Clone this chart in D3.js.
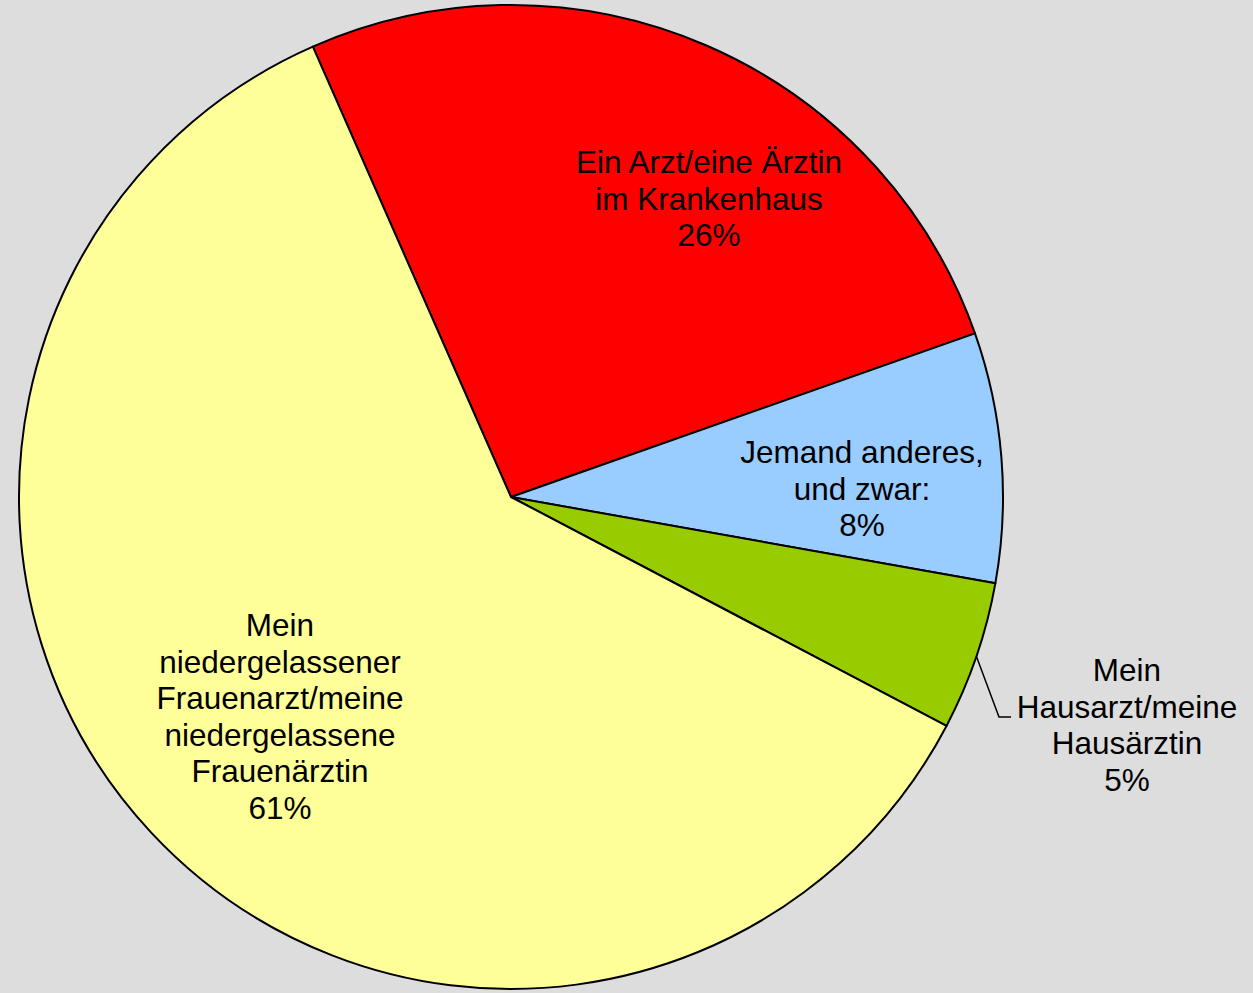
<!DOCTYPE html>
<html>
<head>
<meta charset="utf-8">
<script src="https://cdn.jsdelivr.net/npm/d3@7"></script>
<style>
  html, body { margin: 0; padding: 0; background: #dddddd; }
  svg { display: block; }
  text { font-family: "Liberation Sans", Arial, sans-serif; fill: #000; }
</style>
</head>
<body>
<svg id="chart" width="1253" height="993"></svg>
<script>
// Data (clockwise from the red slice)
const categories = [
  "Ein Arzt/eine Ärztin im Krankenhaus",
  "Jemand anderes, und zwar:",
  "Mein Hausarzt/meine Hausärztin",
  "Mein niedergelassener Frauenarzt/meine niedergelassene Frauenärztin"
];
const values = [26.2, 8.2, 4.9, 60.7];
const percentLabels = ["26%", "8%", "5%", "61%"];
const labelLines = [
  ["Ein Arzt/eine Ärztin", "im Krankenhaus"],
  ["Jemand anderes,", "und zwar:"],
  ["Mein", "Hausarzt/meine", "Hausärztin"],
  ["Mein", "niedergelassener", "Frauenarzt/meine", "niedergelassene", "Frauenärztin"]
];
const colors = ["#ff0000", "#99ccff", "#99cc00", "#ffff99"];

// Layout
const cx = 511, cy = 497, R = 492;
const startDeg = -23.75;
// label anchor (x of centre, y of first baseline)
const labelPos = [
  {x: 709, y: 173},
  {x: 862, y: 463},
  {x: 1127, y: 681},
  {x: 280, y: 636}
];
const lineH = 36.6;

const svg = d3.select("#chart");
const g = svg.append("g").attr("transform", `translate(${cx},${cy})`);

const pie = d3.pie().sort(null).value(d => d)
  .startAngle(startDeg * Math.PI / 180)
  .endAngle(startDeg * Math.PI / 180 + 2 * Math.PI);
const arcs = pie(values);
const arc = d3.arc().innerRadius(0).outerRadius(R);

g.selectAll("path.slice").data(arcs).enter().append("path")
  .attr("class", "slice")
  .attr("d", arc)
  .attr("fill", (d, i) => colors[i])
  .attr("stroke", "#000")
  .attr("stroke-width", 2)
  .attr("stroke-linejoin", "round");

// Leader line for the small green slice
const gi = 2;
const gArc = arcs[gi];
const gMid = (gArc.startAngle + gArc.endAngle) / 2;
const p0 = [cx + R * Math.sin(gMid), cy - R * Math.cos(gMid)];
svg.append("polyline")
  .attr("points", [p0, [999, 717], [1011, 717]].map(p => p.join(",")).join(" "))
  .attr("fill", "none")
  .attr("stroke", "#000")
  .attr("stroke-width", 1.5);

// Labels
labelLines.forEach((lines, i) => {
  const all = lines.concat([percentLabels[i]]);
  const t = svg.append("text")
    .attr("text-anchor", "middle")
    .attr("font-size", "31.5px");
  all.forEach((s, k) => {
    t.append("tspan")
      .attr("x", labelPos[i].x)
      .attr("y", labelPos[i].y + k * lineH)
      .text(s);
  });
});
</script>
</body>
</html>
